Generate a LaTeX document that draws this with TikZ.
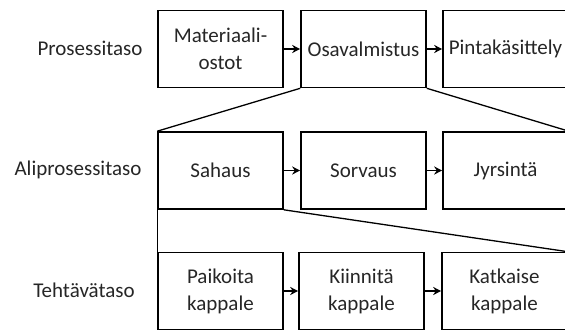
\documentclass[tikz,border=0pt]{standalone}
\usepackage{fontspec}
\setmainfont{Carlito}
\usetikzlibrary{arrows.meta}
\begin{document}
\begin{tikzpicture}[x=1pt,y=-1pt,
  stage/.style={draw=black,line width=1.6pt,minimum width=125pt,minimum height=77pt,
    inner sep=0pt,align=center,font=\fontsize{21}{27}\selectfont,text=black!85},
  level/.style={font=\fontsize{21}{27}\selectfont,text=black!85,inner sep=0pt},
  flow/.style={line width=1.4pt,-{Stealth[length=8pt,width=8pt]}},
  link/.style={line width=1.3pt}]
\useasboundingbox (0,0) rectangle (565,332);

% level labels
\node[level] (l1) at (90,48) {Prosessitaso};
\node[level] (l2) at (78,170) {Aliprosessitaso};
\node[level] (l3) at (84,290) {Tehtävätaso};

% process level
\node[stage] (p1) at (220.5,49) {Materiaali-\\ostot};
\node[stage] (p2) at (363.5,49) {Osavalmistus};
\node[stage] (p3) at (505.5,49) {Pintakäsittely};

% sub-process level
\node[stage] (s1) at (220.5,170.5) {Sahaus};
\node[stage] (s2) at (363.5,170.5) {Sorvaus};
\node[stage] (s3) at (505.5,170.5) {Jyrsintä};

% task level
\node[stage] (t1) at (220.5,291) {Paikoita\\kappale};
\node[stage] (t2) at (361.5,291) {Kiinnitä\\kappale};
\node[stage] (t3) at (504.5,291) {Katkaise\\kappale};

% sequence arrows
\draw[flow] (p1) -- (p2);
\draw[flow] (p2) -- (p3);
\draw[flow] (s1) -- (s2);
\draw[flow] (s2) -- (s3);
\draw[flow] (t1) -- (t2);
\draw[flow] (t2) -- (t3);

% decomposition lines
\draw[link] (p2.south west) -- (s1.north west);
\draw[link] (p2.south east) -- (s3.north east);
\draw[link] (s1.south west) -- (t1.north west);
\draw[link] (s1.south east) -- (t3.north east);
\end{tikzpicture}
\end{document}
